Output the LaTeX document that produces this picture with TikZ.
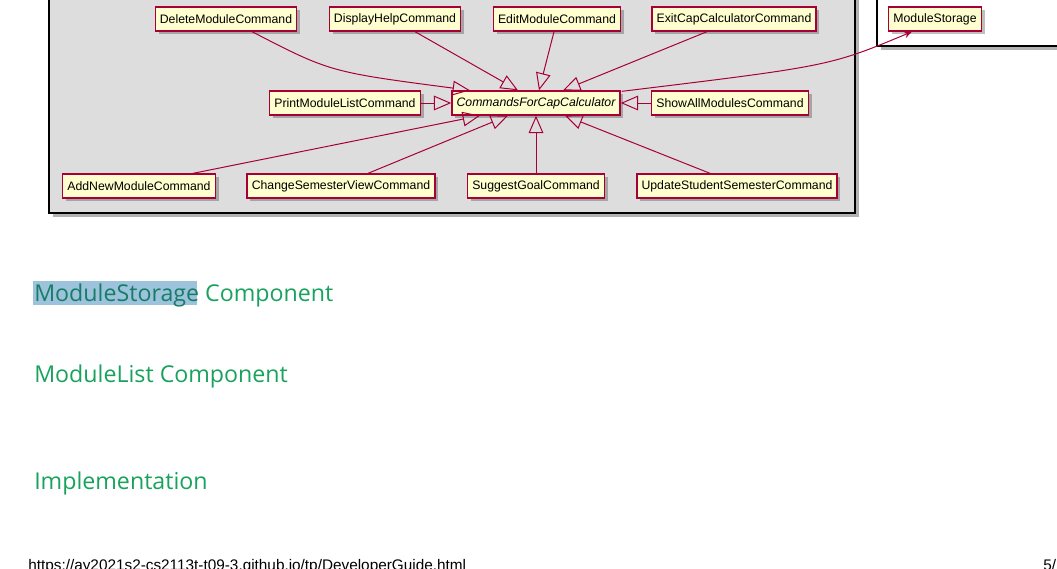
\documentclass[tikz,border=0pt]{standalone}
\usepackage{fontspec}
\usetikzlibrary{arrows.meta,shadows,calc}
\newfontfamily\umlfont{Liberation Sans}
\newfontfamily\headfont{Open Sans}
\definecolor{umlred}{HTML}{A80036}
\definecolor{umlyellow}{HTML}{FEFECE}
\definecolor{pkggray}{HTML}{DDDDDD}
\definecolor{headgreen}{HTML}{18A25D}
\definecolor{hlblue}{HTML}{9CC2DC}
\definecolor{hltext}{HTML}{177D66}
\tikzset{
  cls/.style={draw=umlred, fill=umlyellow, line width=1pt, inner xsep=3.5pt, inner ysep=0pt,
    minimum height=18pt, font=\umlfont\fontsize{9.2pt}{11pt}\selectfont,
    drop shadow={shadow xshift=2.5pt, shadow yshift=-2.5pt, fill=black, opacity=0.25}},
  gen/.style={draw=umlred, line width=0.75pt, -{Triangle[open, length=13pt, width=11pt]}},
  dep/.style={draw=umlred, line width=0.75pt, -{Stealth[length=6pt, width=5pt]}},
  pkg/.style={draw=black, line width=1.1pt},
  pkgshadow/.style={fill=black, opacity=0.3},
  heading/.style={anchor=base west, inner sep=0pt, text=headgreen, font=\headfont\fontsize{17.4pt}{20pt}\selectfont},
  footer/.style={anchor=base west, inner sep=0pt, text=black, font=\umlfont\fontsize{11.5pt}{13pt}\selectfont}
}
\begin{document}
\begin{tikzpicture}[x=0.75pt, y=-0.75pt]
\useasboundingbox (0,0) rectangle (1057,568);
% packages
\fill[pkgshadow] (53,-10) rectangle (859,217);
\draw[pkg, fill=pkggray] (49,-10) rectangle (855,213);
\fill[pkgshadow] (881,-10) rectangle (1075,50);
\draw[pkg, fill=white] (877,-10) rectangle (1071,46);
% classes
\node[cls] (del) at (226,19) {DeleteModuleCommand};
\node[cls] (disp) at (395,19) {DisplayHelpCommand};
\node[cls] (edit) at (557,19) {EditModuleCommand};
\node[cls] (exit) at (734,19) {ExitCapCalculatorCommand};
\node[cls] (ms) at (935,19) {ModuleStorage};
\node[cls] (print) at (345,103) {PrintModuleListCommand};
\node[cls] (com) at (536,103) {\itshape CommandsForCapCalculator};
\node[cls] (show) at (730,103) {ShowAllModulesCommand};
\node[cls] (add) at (139,186) {AddNewModuleCommand};
\node[cls] (chg) at (341,186) {ChangeSemesterViewCommand};
\node[cls] (sug) at (536,186) {SuggestGoalCommand};
\node[cls] (upd) at (737,186) {UpdateStudentSemesterCommand};
% generalisations
\draw[gen] ($(del.south)+(26,0)$) .. controls (330,72) .. ($(com.north)+(-66,0)$);
\draw[gen] ($(disp.south)+(20,0)$) -- ($(com.north)+(-18,0)$);
\draw[gen] ($(edit.south)+(-3,0)$) -- ($(com.north)+(3,0)$);
\draw[gen] ($(exit.south)+(-27,0)$) -- ($(com.north)+(27,0)$);
\draw[gen] (print.east) -- (com.west);
\draw[gen] (show.west) -- (com.east);
\draw[gen] ($(add.north)+(54,0)$) -- ($(com.south)+(-56,0)$);
\draw[gen] ($(chg.north)+(27,0)$) -- ($(com.south)+(-28,0)$);
\draw[gen] (sug.north) -- (com.south);
\draw[gen] ($(upd.north)+(-27,0)$) -- ($(com.south)+(29,0)$);
% dependency
\draw[dep] ($(com.north east)+(1,1)$) .. controls (830,66) .. ($(ms.south)+(-23,0)$);
% headings
\fill[hlblue] (33,281) rectangle (197,305);
\node[heading] (h1) at (34,301) {\textcolor{hltext}{ModuleStorage} Component};
\node[heading] (h2) at (34,382) {ModuleList Component};
\node[heading] (h3) at (34,489) {Implementation};
% footer
\node[footer] (url) at (28,570) {https://ay2021s2-cs2113t-t09-3.github.io/tp/DeveloperGuide.html};
\node[footer] (pg) at (1043,570) {5/};
\end{tikzpicture}
\end{document}
